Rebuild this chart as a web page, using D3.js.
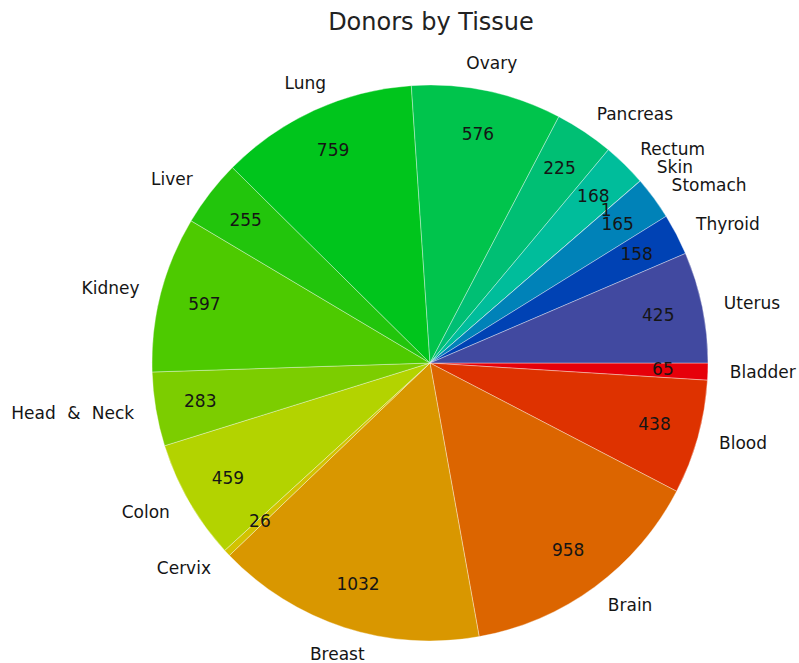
<!DOCTYPE html>
<html>
<head>
<meta charset="utf-8">
<script src="https://cdn.jsdelivr.net/npm/d3@7"></script>
<style>
  html, body { margin: 0; padding: 0; background: #fff; }
  svg { display: block; font-family: "DejaVu Sans", sans-serif; }
</style>
</head>
<body>
<svg id="chart" width="799" height="663"></svg>
<script>
// Donor counts per tissue, drawn clockwise from 3 o'clock
const tissues = ["Bladder", "Blood", "Brain", "Breast", "Cervix", "Colon", "Head & Neck",
  "Kidney", "Liver", "Lung", "Ovary", "Pancreas", "Rectum", "Skin", "Stomach", "Thyroid", "Uterus"];
const donors = [65, 438, 958, 1032, 26, 459, 283, 597, 255, 759, 576, 225, 168, 1, 165, 158, 425];
const sliceColors = ["#e6000a", "#de3200", "#dc6500", "#d99700", "#d2c200", "#b3d300", "#7ccd00",
  "#4dca00", "#22c50c", "#00c51c", "#00c44c", "#00bf74", "#00bd9b", "#00a8aa", "#0082b8", "#0042b4", "#4149a0"];
const chartTitle = "Donors by Tissue";

const svg = d3.select("#chart");
const cx = 430, cy = 363, radius = 278;
const valueRadius = 233, nameRadius = 300;

const rows = tissues.map((t, i) => ({ tissue: t, value: donors[i], color: sliceColors[i] }));

const pie = d3.pie()
  .value(d => d.value)
  .sort(null)
  .startAngle(Math.PI / 2)
  .endAngle(Math.PI / 2 + 2 * Math.PI);

const arcs = pie(rows);
const arc = d3.arc().innerRadius(0).outerRadius(radius);

const g = svg.append("g").attr("transform", `translate(${cx},${cy})`);

g.selectAll("path.slice")
  .data(arcs)
  .join("path")
  .attr("class", "slice")
  .attr("d", arc)
  .attr("fill", d => d.data.color)
  .attr("stroke", "rgba(255,255,255,0.45)")
  .attr("stroke-width", 0.8);

const mid = d => (d.startAngle + d.endAngle) / 2;
const pt = (d, r) => [r * Math.sin(mid(d)), -r * Math.cos(mid(d))];

// Values inside the slices
g.selectAll("text.value")
  .data(arcs)
  .join("text")
  .attr("class", "value")
  .attr("x", d => pt(d, valueRadius)[0])
  .attr("y", d => pt(d, valueRadius)[1])
  .attr("dy", "0.3em")
  .attr("text-anchor", "middle")
  .attr("font-size", 17)
  .attr("fill", "#151515")
  .text(d => d.data.value);

// Tissue names around the pie
g.selectAll("text.name")
  .data(arcs)
  .join("text")
  .attr("class", "name")
  .attr("x", d => pt(d, nameRadius)[0])
  .attr("y", d => pt(d, nameRadius)[1])
  .attr("text-anchor", d => {
    const s = Math.sin(mid(d));
    return s > 0.5 ? "start" : s < -0.5 ? "end" : "middle";
  })
  .attr("dy", d => {
    const s = Math.sin(mid(d)), c = -Math.cos(mid(d));
    if (Math.abs(s) > 0.5) return "0.35em";
    return c < 0 ? "-0.05em" : "0.66em";
  })
  .attr("font-size", 17)
  .attr("word-spacing", 6)
  .attr("fill", "#151515")
  .text(d => d.data.tissue);

svg.append("text")
  .attr("x", 431)
  .attr("y", 30)
  .attr("text-anchor", "middle")
  .attr("font-size", 24)
  .attr("fill", "#222")
  .text(chartTitle);
</script>
</body>
</html>
